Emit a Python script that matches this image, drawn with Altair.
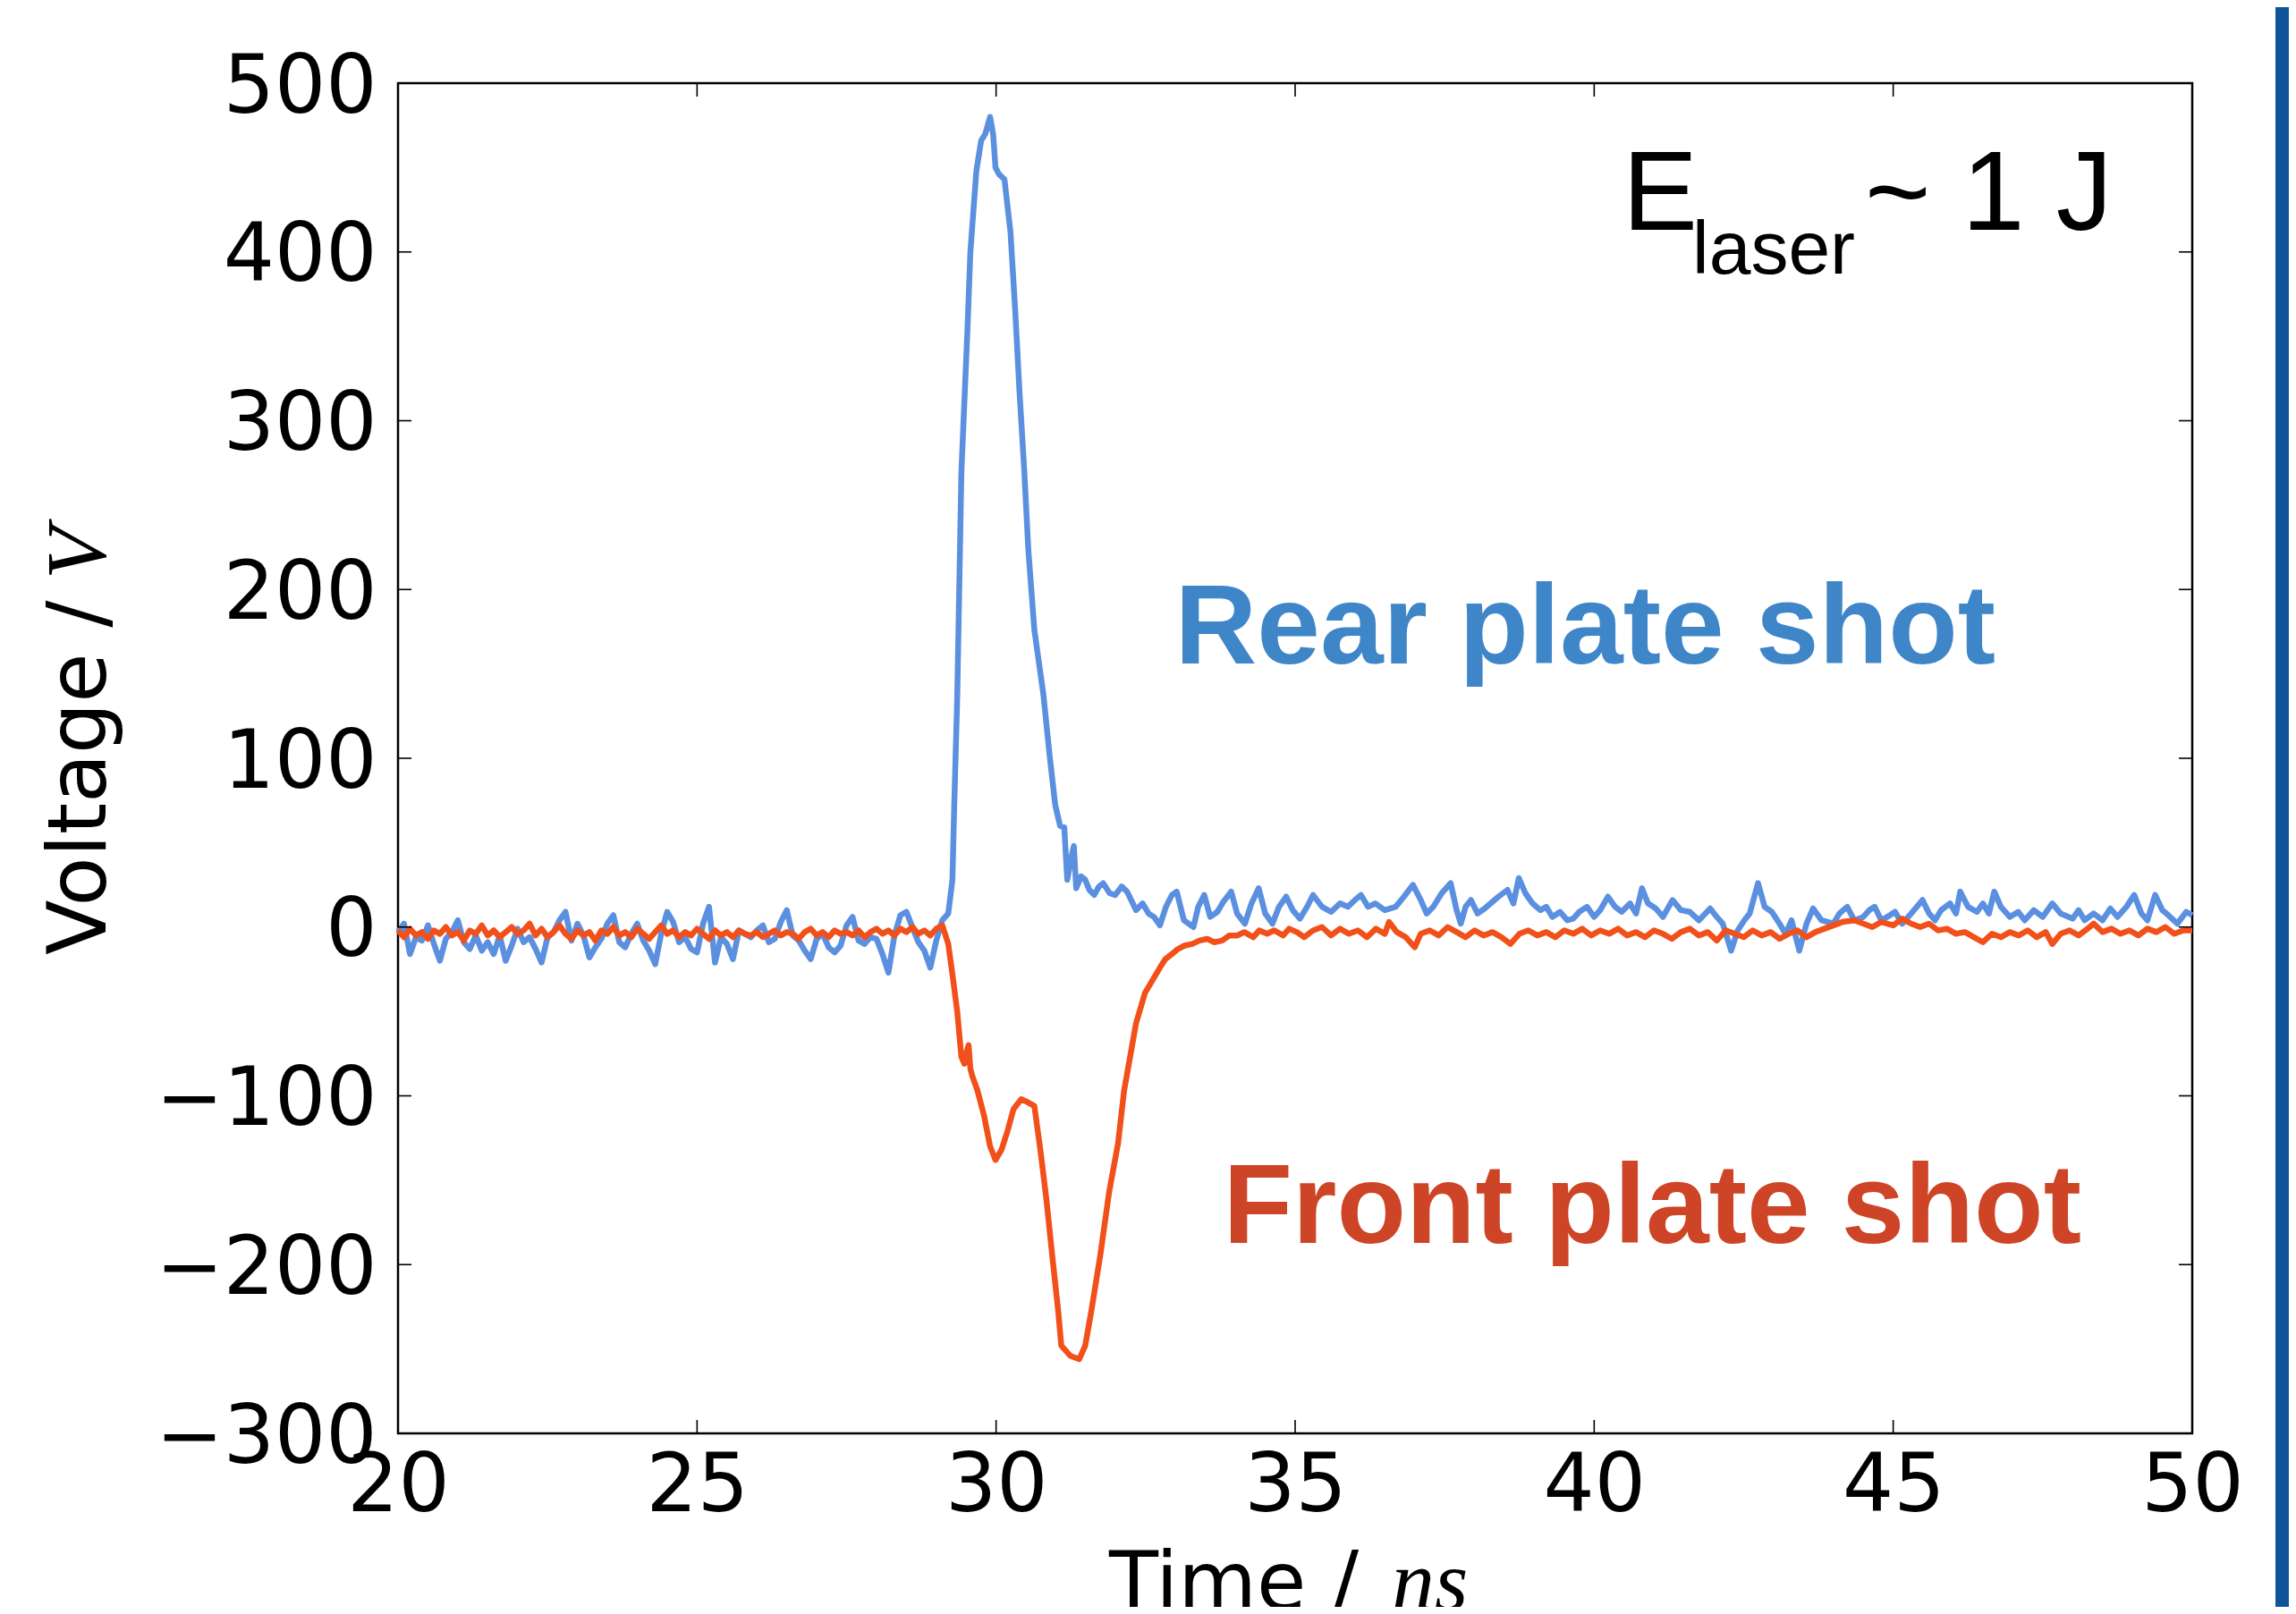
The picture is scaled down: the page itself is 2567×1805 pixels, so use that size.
import altair as alt
import pandas as pd

# ---------------- data ----------------
rear_trace = [
    (20.0, -3), (20.1, 2), (20.2, -16), (20.3, -6), (20.4, -8), (20.5, 1), (20.6, -10), (20.7, -20), (20.8, -7), (20.9, -3),
    (21.0, 4), (21.1, -9), (21.2, -13), (21.3, -5), (21.4, -14), (21.5, -9), (21.6, -16), (21.7, -5), (21.8, -20), (21.9, -11),
    (22.0, -1), (22.1, -9), (22.2, -6), (22.3, -13), (22.4, -21), (22.5, -6), (22.6, -3), (22.7, 4), (22.8, 9), (22.9, -8),
    (23.0, 2), (23.1, -5), (23.2, -18), (23.3, -12), (23.4, -7), (23.5, 2), (23.6, 7), (23.7, -9), (23.8, -12), (23.9, -4),
    (24.0, 2), (24.1, -8), (24.2, -14), (24.3, -22), (24.4, -4), (24.5, 9), (24.6, 3), (24.7, -9), (24.8, -6), (24.9, -13),
    (25.0, -15), (25.1, 2), (25.2, 12), (25.3, -21), (25.4, -6), (25.5, -10), (25.6, -19), (25.7, -2), (25.8, -4), (25.9, -6),
    (26.0, -2), (26.1, 1), (26.2, -9), (26.3, -7), (26.4, 3), (26.5, 10), (26.6, -5), (26.7, -8), (26.8, -14), (26.9, -19),
    (27.0, -7), (27.1, -4), (27.2, -12), (27.3, -15), (27.4, -11), (27.5, 1), (27.6, 6), (27.7, -8), (27.8, -10), (27.9, -6),
    (28.0, -7), (28.1, -16), (28.2, -27), (28.3, -5), (28.4, 7), (28.5, 9), (28.6, 0), (28.7, -9), (28.8, -14), (28.9, -24),
    (29.0, -8), (29.1, 4), (29.2, 8), (29.27, 28), (29.3, 72), (29.35, 136), (29.42, 270), (29.52, 353), (29.57, 400), (29.67, 448),
    (29.75, 466), (29.82, 470), (29.9, 480), (29.95, 470), (29.99, 450), (30.05, 446), (30.14, 443), (30.24, 412), (30.32, 365), (30.39, 318),
    (30.47, 271), (30.54, 223), (30.64, 176), (30.79, 138), (30.9, 100), (30.99, 72), (31.07, 60), (31.14, 59), (31.19, 28), (31.25, 40),
    (31.3, 48), (31.34, 23), (31.42, 30), (31.49, 28), (31.56, 22), (31.64, 19), (31.72, 24), (31.79, 26), (31.9, 20), (31.99, 19),
    (32.1, 24), (32.19, 21), (32.34, 10), (32.45, 14), (32.55, 8), (32.64, 6), (32.74, 1), (32.84, 12), (32.94, 19), (33.02, 21),
    (33.14, 4), (33.3, 0), (33.38, 12), (33.48, 19), (33.58, 6), (33.7, 9), (33.8, 15), (33.93, 21), (34.03, 8), (34.16, 2),
    (34.27, 14), (34.39, 23), (34.5, 8), (34.62, 2), (34.73, 12), (34.85, 18), (34.96, 10), (35.08, 5), (35.2, 12), (35.3, 19),
    (35.45, 12), (35.6, 9), (35.75, 14), (35.88, 12), (36.0, 16), (36.1, 19), (36.22, 12), (36.34, 14), (36.5, 10), (36.68, 12),
    (36.82, 18), (36.97, 25), (37.1, 16), (37.2, 8), (37.31, 12), (37.45, 20), (37.6, 26), (37.7, 10), (37.77, 2), (37.85, 12),
    (37.94, 16), (38.05, 8), (38.17, 11), (38.3, 15), (38.4, 18), (38.55, 22), (38.65, 14), (38.74, 29), (38.85, 20), (38.97, 14),
    (39.1, 10), (39.2, 12), (39.3, 6), (39.43, 9), (39.55, 4), (39.65, 5), (39.75, 9), (39.88, 12), (40.0, 6), (40.1, 10),
    (40.23, 18), (40.35, 12), (40.46, 9), (40.6, 14), (40.7, 8), (40.8, 23), (40.9, 14), (41.03, 11), (41.15, 6), (41.31, 16),
    (41.45, 10), (41.6, 9), (41.75, 4), (41.94, 11), (42.05, 6), (42.15, 2), (42.29, -14), (42.4, -2), (42.51, 4), (42.6, 8),
    (42.74, 26), (42.85, 12), (42.97, 9), (43.1, 2), (43.2, -4), (43.3, 4), (43.43, -14), (43.55, 2), (43.66, 11), (43.8, 4),
    (44.0, 2), (44.1, 8), (44.23, 12), (44.35, 4), (44.5, 6), (44.6, 10), (44.69, 12), (44.8, 4), (44.9, 6), (45.03, 9),
    (45.15, 2), (45.3, 8), (45.49, 16), (45.6, 8), (45.7, 4), (45.8, 10), (45.95, 14), (46.05, 8), (46.12, 21), (46.25, 12),
    (46.4, 9), (46.5, 14), (46.6, 8), (46.69, 21), (46.8, 12), (46.95, 6), (47.09, 9), (47.2, 4), (47.35, 10), (47.5, 6),
    (47.66, 14), (47.8, 8), (48.0, 5), (48.1, 10), (48.2, 4), (48.35, 8), (48.5, 4), (48.63, 11), (48.75, 6), (48.9, 12),
    (49.03, 19), (49.15, 8), (49.25, 4), (49.38, 19), (49.5, 10), (49.6, 7), (49.75, 2), (49.9, 9), (50.0, 7),
]

front_trace = [
    (20.0, -2), (20.1, -6), (20.2, -1), (20.3, -5), (20.4, -3), (20.5, -7), (20.6, -2), (20.7, -4), (20.8, 0), (20.9, -5),
    (21.0, -3), (21.1, -8), (21.2, -2), (21.3, -4), (21.4, 1), (21.5, -5), (21.6, -2), (21.7, -6), (21.8, -3), (21.9, 0),
    (22.0, -4), (22.1, -2), (22.2, 2), (22.3, -5), (22.4, -1), (22.5, -6), (22.6, -3), (22.7, 1), (22.8, -4), (22.9, -7),
    (23.0, -2), (23.1, -5), (23.2, -3), (23.3, -8), (23.4, -2), (23.5, -4), (23.6, 0), (23.7, -5), (23.8, -3), (23.9, -6),
    (24.0, -1), (24.1, -4), (24.2, -7), (24.3, -3), (24.4, 1), (24.5, -4), (24.6, -2), (24.7, -6), (24.8, -3), (24.9, -5),
    (25.0, -1), (25.1, -4), (25.2, -7), (25.3, -2), (25.4, -5), (25.5, -3), (25.6, -6), (25.7, -2), (25.8, -4), (25.9, -5),
    (26.0, -3), (26.1, -6), (26.2, -4), (26.3, -2), (26.4, -5), (26.5, -3), (26.6, -4), (26.7, -7), (26.8, -3), (26.9, -1),
    (27.0, -5), (27.1, -3), (27.2, -6), (27.3, -2), (27.4, -4), (27.5, -3), (27.6, -5), (27.7, -2), (27.8, -6), (27.9, -3),
    (28.0, -1), (28.1, -4), (28.2, -2), (28.3, -5), (28.4, -1), (28.5, -3), (28.6, 0), (28.7, -4), (28.8, -2), (28.9, -5),
    (29.0, -1), (29.1, 1), (29.2, -10), (29.27, -28), (29.35, -50), (29.42, -77), (29.47, -81), (29.5, -75), (29.54, -70), (29.57, -84),
    (29.6, -88), (29.69, -97), (29.8, -112), (29.9, -130), (29.99, -138), (30.09, -132), (30.19, -121), (30.29, -108), (30.42, -102), (30.54, -104),
    (30.64, -106), (30.74, -132), (30.84, -161), (30.94, -195), (31.04, -228), (31.09, -248), (31.24, -254), (31.39, -256), (31.49, -248), (31.59, -228),
    (31.74, -195), (31.89, -157), (32.04, -128), (32.14, -97), (32.24, -77), (32.34, -57), (32.49, -39), (32.64, -30), (32.74, -24), (32.83, -19),
    (32.94, -16), (33.04, -13), (33.15, -11), (33.28, -10), (33.4, -8), (33.53, -7), (33.65, -9), (33.78, -8), (33.9, -5), (34.03, -5),
    (34.15, -3), (34.3, -6), (34.4, -2), (34.53, -4), (34.65, -2), (34.8, -5), (34.9, -1), (35.03, -3), (35.15, -6), (35.3, -2),
    (35.45, 0), (35.6, -5), (35.75, -1), (35.9, -4), (36.05, -2), (36.2, -6), (36.35, -1), (36.5, -4), (36.57, 3), (36.7, -3),
    (36.85, -6), (37.0, -12), (37.1, -4), (37.25, -2), (37.4, -5), (37.55, 0), (37.7, -3), (37.85, -6), (38.0, -2), (38.15, -5),
    (38.3, -3), (38.45, -6), (38.6, -10), (38.75, -4), (38.9, -2), (39.05, -5), (39.2, -3), (39.35, -6), (39.5, -2), (39.65, -4),
    (39.8, -1), (39.95, -5), (40.1, -2), (40.25, -4), (40.4, -1), (40.55, -5), (40.7, -3), (40.85, -6), (41.0, -2), (41.15, -4),
    (41.3, -7), (41.45, -3), (41.6, -1), (41.75, -5), (41.9, -3), (42.05, -8), (42.2, -2), (42.35, -4), (42.5, -6), (42.65, -2),
    (42.8, -5), (42.95, -3), (43.1, -7), (43.25, -4), (43.4, -2), (43.55, -6), (43.7, -3), (43.85, -1), (44.0, 1), (44.15, 3),
    (44.35, 4), (44.5, 2), (44.65, 0), (44.8, 3), (45.0, 1), (45.15, 5), (45.3, 2), (45.45, 0), (45.6, 2), (45.75, -2),
    (45.9, -1), (46.05, -4), (46.2, -3), (46.35, -6), (46.5, -9), (46.65, -4), (46.8, -6), (46.95, -3), (47.1, -5), (47.25, -2),
    (47.4, -6), (47.55, -3), (47.66, -10), (47.8, -4), (47.95, -2), (48.1, -5), (48.25, -1), (48.35, 2), (48.5, -3), (48.65, -1),
    (48.8, -4), (48.95, -2), (49.1, -5), (49.25, -1), (49.4, -3), (49.55, 0), (49.7, -4), (49.85, -2), (50.0, -2),
]

x_ticks = [20, 25, 30, 35, 40, 45, 50]
y_ticks = [-300, -200, -100, 0, 100, 200, 300, 400, 500]

series_labels = ["Rear plate shot", "Front plate shot"]
series_label_time = [39.85, 40.97]
series_label_volt = [156, -187]

# ---------------- chart ----------------
W, H = 2006, 1510
BLUE_LINE = "#5b8fe0"
RED_LINE = "#f2501a"
BLUE_TEXT = "#3f86c8"
RED_TEXT = "#cd4426"
TICK_FONT = "DejaVu Sans"

xs = alt.Scale(domain=[20, 50], nice=False, zero=False)
ys = alt.Scale(domain=[-300, 500], nice=False, zero=False)

x_axis = alt.Axis(values=x_ticks, format="d", title=None, domain=False, ticks=False, tickSize=0,
                  grid=False, labelFont=TICK_FONT, labelFontSize=90, labelColor="black",
                  labelPadding=15, labelFlush=False, labelOverlap=False, labelLimit=1000)
y_axis = alt.Axis(values=y_ticks, format="d", title=None, domain=False, ticks=False, tickSize=0,
                  grid=False, labelFont=TICK_FONT, labelFontSize=90, labelColor="black",
                  labelPadding=24, labelOverlap=False, labelOffset=5, labelLimit=1000)

X = lambda f: alt.X(f, type="quantitative", scale=xs, axis=x_axis)
Y = lambda f: alt.Y(f, type="quantitative", scale=ys, axis=y_axis)

rear = pd.DataFrame(rear_trace, columns=["t", "v"])
front = pd.DataFrame(front_trace, columns=["t", "v"])
xt = pd.DataFrame({"t": x_ticks})
yt = pd.DataFrame({"v": y_ticks})
labels = pd.DataFrame({"label": series_labels, "t": series_label_time, "v": series_label_volt})
one = pd.DataFrame({"a": [0]})

rear_line = alt.Chart(rear).mark_line(color=BLUE_LINE, strokeWidth=6.5, strokeJoin="round").encode(
    x=X("t"), y=Y("v"), order="t:Q")
front_line = alt.Chart(front).mark_line(color=RED_LINE, strokeWidth=6.5, strokeJoin="round").encode(
    x=X("t"), y=Y("v"), order="t:Q")

TL = 15
tick_style = dict(color="black", strokeWidth=1.6)
xt_bottom = alt.Chart(xt).mark_rule(**tick_style).encode(x=X("t"), y=alt.value(H), y2=alt.value(H - TL))
xt_top = alt.Chart(xt).mark_rule(**tick_style).encode(x=X("t"), y=alt.value(0), y2=alt.value(TL))
yt_left = alt.Chart(yt).mark_rule(**tick_style).encode(y=Y("v"), x=alt.value(0), x2=alt.value(TL))
yt_right = alt.Chart(yt).mark_rule(**tick_style).encode(y=Y("v"), x=alt.value(W), x2=alt.value(W - TL))

label_layer = alt.Chart(labels).mark_text(font="Liberation Sans", fontWeight="bold", fontSize=127,
                                          align="center", baseline="alphabetic").encode(
    x=X("t"), y=Y("v"), text="label:N",
    color=alt.Color("label:N", scale=alt.Scale(domain=series_labels, range=[BLUE_TEXT, RED_TEXT]), legend=None))

def txt(text, x, y, **kw):
    return alt.Chart(one).mark_text(text=text, baseline="alphabetic", color="black", **kw).encode(
        x=alt.value(x), y=alt.value(y))

e_main = txt("E", 1369, 164, font="Liberation Sans", fontSize=126, align="left")
e_sub = txt("laser", 1447, 213, font="Liberation Sans", fontSize=84, align="left")
e_rest = txt("~ 1 J", 1640, 164, font="Liberation Sans", fontSize=126, align="left")

y_title_a = txt("Voltage /", -327, 975, font=TICK_FONT, fontSize=90, align="left", angle=270)
y_title_b = txt("V", -327, 555, font="Liberation Serif", fontStyle="italic", fontSize=96, align="left", angle=270)
x_title_a = txt("Time /", 795, 1707, font=TICK_FONT, fontSize=90, align="left")
x_title_b = txt("ns", 1111, 1707, font="Liberation Serif", fontStyle="italic", fontSize=96, align="left")

side_bar = alt.Chart(one).mark_rect(color="#0f5499", clip=False).encode(
    x=alt.value(2099), x2=alt.value(2120), y=alt.value(-90), y2=alt.value(1710))

chart = alt.layer(
    rear_line, front_line, xt_bottom, xt_top, yt_left, yt_right, label_layer,
    e_main, e_sub, e_rest, y_title_a, y_title_b, x_title_a, x_title_b, side_bar
).properties(
    width=W, height=H,
    autosize=alt.AutoSizeParams(type="none"),
    padding={"left": 437, "top": 85, "right": 108, "bottom": 194},
    background="white",
).configure_view(stroke="black", strokeWidth=2.5)

chart.save("out.html", embed_options={"renderer": "svg", "actions": False})
